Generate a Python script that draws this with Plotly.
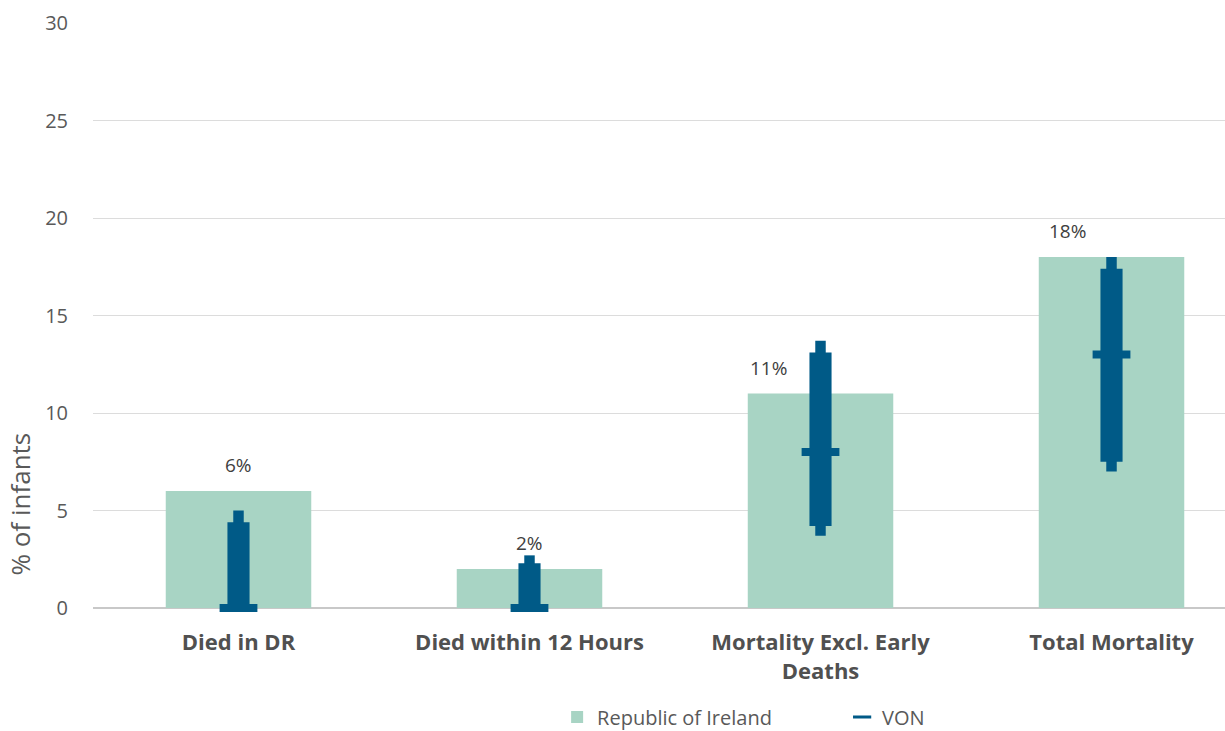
import plotly.graph_objects as go

# Categories and values
categories = ["Died in DR", "Died within 12 Hours", "Mortality Excl. Early<br>Deaths", "Total Mortality"]
ireland = [6, 2, 11, 18]
ireland_labels = ["6%", "2%", "11%", "18%"]
label_xshift = [0, 0, -52, -44]

# VON reference network: median, interquartile band and outer range
von_median = [0, 0, 8, 13]
von_q1 = [0, 0, 4.2, 7.5]
von_q3 = [4.4, 2.3, 13.1, 17.4]
von_low = [0, 0, 3.7, 7.0]
von_high = [5.0, 2.7, 13.7, 18.0]

green = "#A8D4C4"
blue = "#005A87"
text_grey = "#595959"
font_family = "'Open Sans', Lato, sans-serif"

x = list(range(len(categories)))

fig = go.Figure()

fig.add_trace(go.Bar(
    x=x, y=ireland, width=0.5, name="Republic of Ireland",
    marker=dict(color=green, line=dict(width=0)),
))

# Outer range (narrow column)
fig.add_trace(go.Bar(
    x=x, y=[h - l for h, l in zip(von_high, von_low)], base=von_low,
    width=0.036, marker=dict(color=blue, line=dict(width=0)),
    showlegend=False, hoverinfo="skip",
))

# Interquartile band (wider column)
fig.add_trace(go.Bar(
    x=x, y=[h - l for h, l in zip(von_q3, von_q1)], base=von_q1,
    width=0.076, marker=dict(color=blue, line=dict(width=0)),
    showlegend=False, hoverinfo="skip",
))

# Median tick
fig.add_trace(go.Scatter(
    x=x, y=von_median, mode="markers", name="VON", cliponaxis=False,
    showlegend=False,
    marker=dict(symbol="line-ew", size=27, color=blue,
                line=dict(color=blue, width=8)),
))

# Legend key for the VON series (small dash)
fig.add_trace(go.Scatter(
    x=[None], y=[None], mode="markers", name="VON",
    marker=dict(symbol="line-ew", size=13, color=blue,
                line=dict(color=blue, width=3)),
))

for xi, v, lab, dx in zip(x, ireland, ireland_labels, label_xshift):
    fig.add_annotation(
        x=xi, y=v, text=lab, showarrow=False, yshift=26, xshift=dx,
        font=dict(family=font_family, size=19, color="#404040"),
    )

fig.add_annotation(
    xref="paper", yref="paper", x=0, y=0.177, xshift=-73,
    xanchor="center", yanchor="middle",
    text="% of infants", textangle=-90, showarrow=False,
    font=dict(family=font_family, size=26, color=text_grey),
)

fig.update_layout(
    width=1225, height=731,
    margin=dict(l=93, r=0, t=23, b=123, autoexpand=False),
    plot_bgcolor="white", paper_bgcolor="white",
    barmode="overlay",
    font=dict(family=font_family, color=text_grey),
    showlegend=True,
    legend=dict(
        orientation="h", x=0.41, xanchor="left", y=-0.153, yanchor="top",
        font=dict(family=font_family, size=20, color=text_grey),
        entrywidth=240, entrywidthmode="pixels", itemwidth=30,
    ),
    xaxis=dict(
        tickmode="array", tickvals=x, ticktext=["<b>%s</b>" % c for c in categories],
        range=[-0.5, 3.39], showgrid=False, zeroline=False,
        showline=False, ticks="", ticklabelstandoff=19,
        tickfont=dict(family=font_family, size=22, color="#505050"),
    ),
    yaxis=dict(
        range=[0, 30], dtick=5, showgrid=True, gridcolor="#DCDCDC", gridwidth=1,
        zeroline=True, zerolinecolor="#C8C8C8", zerolinewidth=1.5,
        showline=False, ticks="", ticklabelstandoff=24,
        tickfont=dict(family=font_family, size=20, color=text_grey),
    ),
)

fig.write_html("out.html")
